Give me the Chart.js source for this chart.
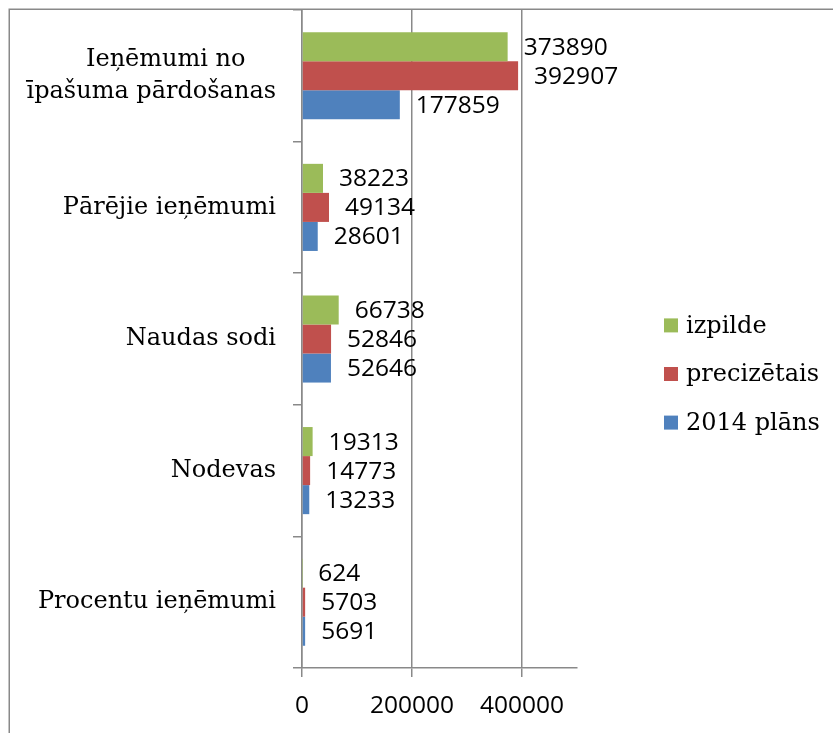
<!DOCTYPE html>
<html>
<head>
<meta charset="utf-8">
<script src="https://cdn.jsdelivr.net/npm/chart.js@4.4.1/dist/chart.umd.min.js"></script>
<style>
  html, body { margin: 0; padding: 0; background: #ffffff; }
  #wrap { position: relative; width: 833px; height: 733px; }
</style>
</head>
<body>
<div id="wrap"><canvas id="c" width="833" height="733"></canvas></div>
<script>
const categories = [['Ieņēmumi no', 'īpašuma pārdošanas'], 'Pārējie ieņēmumi', 'Naudas sodi', 'Nodevas', 'Procentu ieņēmumi'];
const seriesNames = ['izpilde', 'precizētais', '2014 plāns'];
const izpilde = [373890, 38223, 66738, 19313, 624];
const precizetais = [392907, 49134, 52846, 14773, 5703];
const plans2014 = [177859, 28601, 52646, 13233, 5691];
const xTickValues = [0, 200000, 400000];
const xTickLabels = ['0', '200000', '400000'];
const seriesColors = ['#9BBB59', '#C0504D', '#4F81BD'];

const GRID = '#898989';
const SERIF = '24px "DejaVu Serif"';
const SANS = '24.5px "Open Sans"';

const framePlugin = {
  id: 'frame',
  beforeDraw(chart) {
    const ctx = chart.ctx;
    ctx.save();
    ctx.strokeStyle = GRID;
    ctx.lineWidth = 1.5;
    ctx.beginPath();
    ctx.moveTo(9.25, 733);
    ctx.lineTo(9.25, 9.25);
    ctx.lineTo(833, 9.25);
    ctx.stroke();
    ctx.restore();
  }
};

const valueLabels = {
  id: 'valueLabels',
  afterDatasetsDraw(chart) {
    const ctx = chart.ctx;
    ctx.save();
    ctx.font = SANS;
    ctx.fillStyle = '#000000';
    ctx.textAlign = 'left';
    ctx.textBaseline = 'middle';
    chart.data.datasets.forEach((ds, di) => {
      const meta = chart.getDatasetMeta(di);
      meta.data.forEach((bar, i) => {
        ctx.fillText(String(ds.data[i]), bar.x + 16, bar.y + 1);
      });
    });
    ctx.restore();
  }
};

const customLegend = {
  id: 'customLegend',
  afterDraw(chart) {
    const ctx = chart.ctx;
    const area = chart.chartArea;
    const boxX = area.right + 87;
    const textX = boxX + 22;
    const pitch = 48.6;
    const n = chart.data.datasets.length;
    const midY = (area.top + area.bottom) / 2 + 35;
    ctx.save();
    ctx.font = SERIF;
    ctx.textAlign = 'left';
    ctx.textBaseline = 'middle';
    chart.data.datasets.forEach((ds, i) => {
      const cy = midY + (i - (n - 1) / 2) * pitch;
      ctx.fillStyle = ds.backgroundColor;
      ctx.fillRect(boxX, cy - 7, 14, 14);
      ctx.fillStyle = '#000000';
      ctx.fillText(ds.label, textX, cy + 1);
    });
    ctx.restore();
  }
};

new Chart(document.getElementById('c'), {
  type: 'bar',
  data: {
    labels: categories,
    datasets: [
      { label: seriesNames[0], data: izpilde, backgroundColor: seriesColors[0] },
      { label: seriesNames[1], data: precizetais, backgroundColor: seriesColors[1] },
      { label: seriesNames[2], data: plans2014, backgroundColor: seriesColors[2] }
    ]
  },
  options: {
    indexAxis: 'y',
    responsive: false,
    animation: false,
    devicePixelRatio: 1,
    layout: { padding: { top: 10, right: 256, left: 0, bottom: 0 } },
    datasets: { bar: { categoryPercentage: 0.662, barPercentage: 1, borderWidth: 0 } },
    plugins: {
      legend: { display: false },
      tooltip: { enabled: false },
      title: { display: false }
    },
    scales: {
      x: {
        type: 'linear',
        min: 0,
        max: 500000,
        grid: { color: GRID, lineWidth: 1.5, tickLength: 9, drawOnChartArea: true, drawTicks: true },
        border: { display: true, color: GRID, width: 1.5 },
        ticks: {
          autoSkip: false,
          maxRotation: 0,
          padding: 14,
          color: '#000000',
          font: { family: 'Open Sans', size: 24.5 },
          callback: (v, i) => xTickLabels[xTickValues.indexOf(v)]
        },
        afterBuildTicks: s => { s.ticks = xTickValues.map(v => ({ value: v })); },
        afterFit: s => { s.height = 65; s.paddingLeft = 0; s.paddingRight = 0; }
      },
      y: {
        type: 'category',
        grid: { color: GRID, lineWidth: 1.5, tickLength: 9, drawOnChartArea: false, offset: true },
        border: { display: true, color: GRID, width: 1.5 },
        ticks: {
          padding: 17,
          color: '#000000',
          font: { family: 'DejaVu Serif', size: 24, lineHeight: 1.317 },
          callback: function (v, i) {
            const l = categories[i];
            if (Array.isArray(l)) return [l[0] + '    ', l[1]];
            return l;
          }
        },
        afterFit: s => { s.width = 302; s.paddingTop = 0; s.paddingBottom = 0; }
      }
    }
  },
  plugins: [framePlugin, valueLabels, customLegend]
});
</script>
</body>
</html>
